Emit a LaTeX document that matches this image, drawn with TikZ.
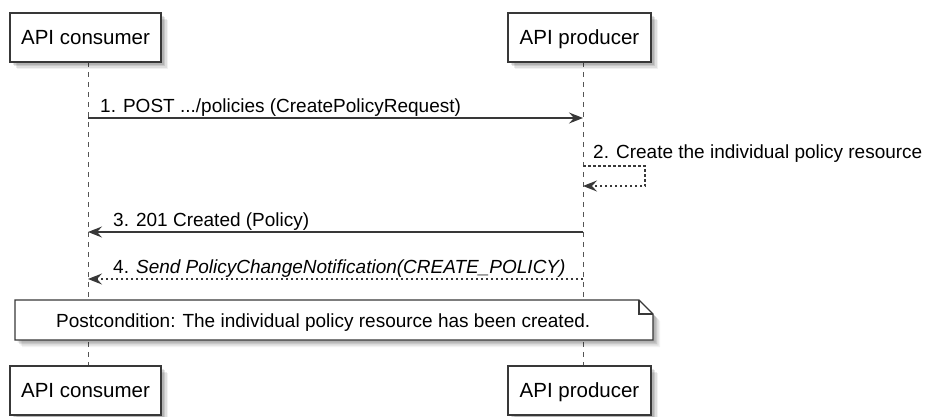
\documentclass[tikz,border=0pt]{standalone}
\usepackage{fontspec}
\setmainfont{Liberation Sans}
\usetikzlibrary{arrows.meta}
\definecolor{linec}{HTML}{383838}
\definecolor{lifec}{HTML}{555555}
\tikzset{
  softshadow/.style={
    preaction={fill=black, opacity=0.10, transform canvas={shift={(2.5pt,-2.5pt)}}},
    preaction={fill=black, opacity=0.10, transform canvas={shift={(4pt,-4pt)}}},
    preaction={fill=black, opacity=0.08, transform canvas={shift={(5.5pt,-5.5pt)}}},
    preaction={fill=black, opacity=0.05, transform canvas={shift={(7pt,-7pt)}}}},
  partbox/.style={draw=linec, line width=1.2pt, fill=white, inner sep=0pt,
    font=\fontsize{20.5}{24}\selectfont, text height=14.7pt, text depth=0pt,
    minimum height=49pt, softshadow},
  lifeline/.style={draw=lifec, line width=1pt, dash pattern=on 5pt off 5pt},
  msgtext/.style={inner sep=0pt, anchor=base west, font=\fontsize{19}{22}\selectfont},
  msg/.style={draw=linec, line width=1.2pt, -{Stealth[length=14pt,width=11pt,inset=5pt]}},
  reply/.style={msg, dash pattern=on 2.5pt off 2.5pt},
  notebox/.style={draw=linec, line width=1.2pt, fill=white, softshadow},
}
\begin{document}
\begin{tikzpicture}[x=1pt,y=-1pt]
\useasboundingbox (0,0) rectangle (927,416);
\fill[white] (0,0) rectangle (927,416);

% lifelines
\coordinate (cl1) at (88,62);
\coordinate (cl2) at (88,366);
\coordinate (pl1) at (583,62);
\coordinate (pl2) at (583,366);
\draw[lifeline] (cl1) -- (cl2);
\draw[lifeline] (pl1) -- (pl2);

% participants
\node[partbox, minimum width=151pt] (cTop) at (85.5,37.5) {API consumer};
\node[partbox, minimum width=143pt] (pTop) at (579.5,37.5) {API producer};
\node[partbox, minimum width=151pt] (cBot) at (85.5,390.5) {API consumer};
\node[partbox, minimum width=143pt] (pBot) at (579.5,390.5) {API producer};

% message 1
\coordinate (m1s) at (88,118);
\coordinate (m1e) at (583,118);
\draw[msg] (m1s) -- (m1e);
\node[msgtext] (t1) at (100,112) {1. POST .../policies (CreatePolicyRequest)};

% message 2 (self)
\coordinate (m2s) at (583,166);
\coordinate (m2a) at (645,166);
\coordinate (m2b) at (645,186);
\coordinate (m2e) at (583,186);
\draw[reply] (m2s) -- (m2a) -- (m2b) -- (m2e);
\node[msgtext] (t2) at (593,158) {2. Create the individual policy resource};

% message 3
\coordinate (m3s) at (583,232);
\coordinate (m3e) at (88,232);
\draw[msg] (m3s) -- (m3e);
\node[msgtext] (t3) at (113,226) {3. 201 Created (Policy)};

% message 4
\coordinate (m4s) at (583,279);
\coordinate (m4e) at (88,279);
\draw[reply] (m4s) -- (m4e);
\node[msgtext] (t4) at (113,273.5) {4. \textit{Send PolicyChangeNotification(CREATE\_POLICY)}};

% note
\path[notebox] (15,300) -- (639,300) -- (653,314) -- (653,340) -- (15,340) -- cycle;
\draw[draw=linec, line width=1.2pt] (639,300) -- (639,314) -- (653,314);
\node[msgtext] (nt) at (56,327) {Postcondition: The individual policy resource has been created.};
\end{tikzpicture}
\end{document}
